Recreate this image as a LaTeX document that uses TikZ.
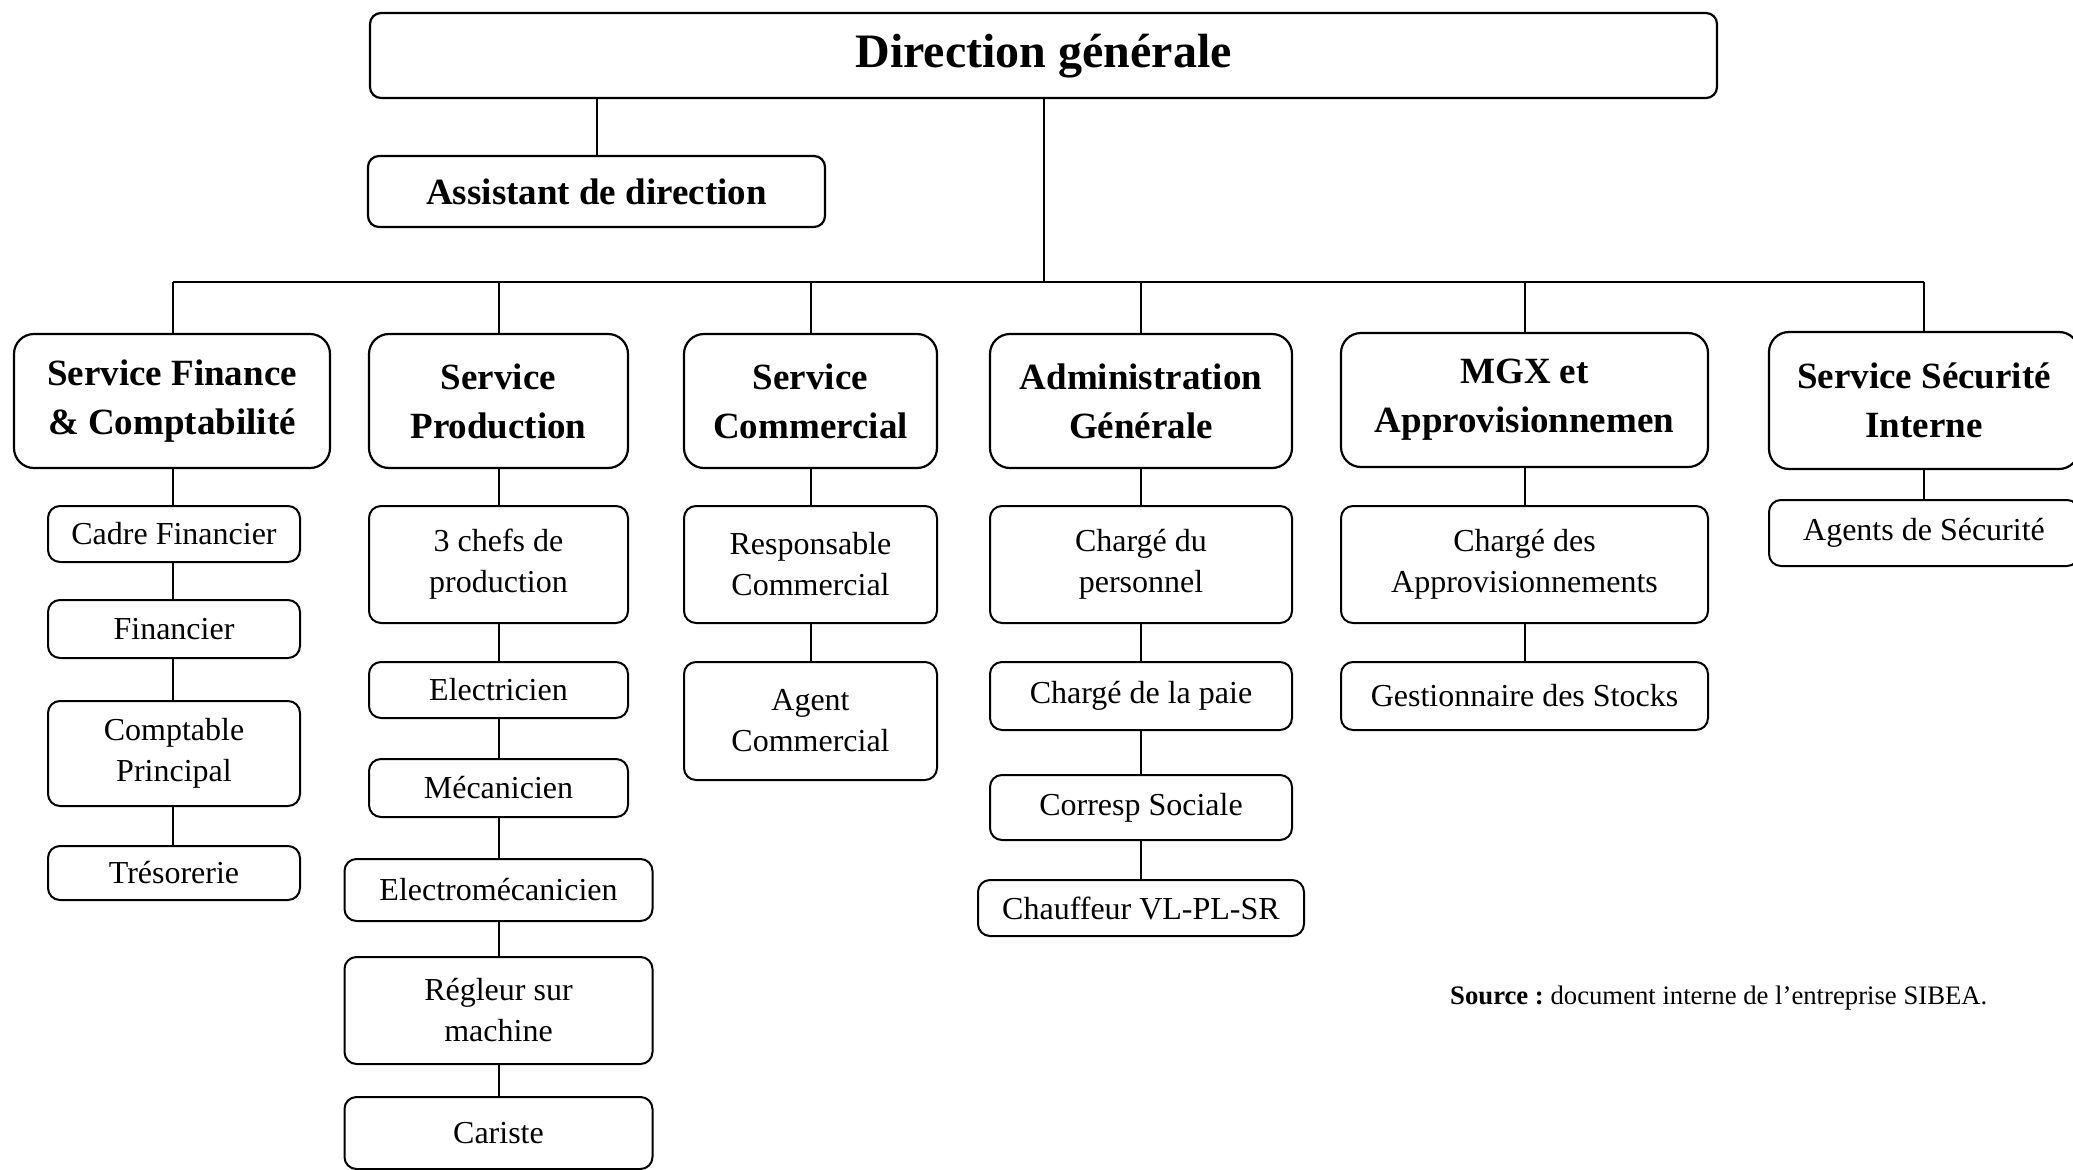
\documentclass[tikz,border=0pt]{standalone}
\usepackage{fontspec}
\setmainfont{Liberation Serif}
\tikzset{
  dgbox/.style={draw, line width=2.2pt, rounded corners=11pt, align=center, inner sep=0pt,
    font=\fontsize{48}{56}\selectfont\bfseries, text height=44pt, text depth=21pt},
  headbox/.style={draw, line width=2.2pt, rounded corners=20pt, align=center, inner sep=0pt,
    font=\fontsize{37}{49}\selectfont\bfseries},
  subbox/.style={draw, line width=2pt, rounded corners=12pt, align=center, inner sep=0pt,
    font=\fontsize{32}{41}\selectfont},
  link/.style={line width=2pt}
}
\begin{document}
\begin{tikzpicture}[x=1pt,y=-1pt]
\clip (0,0) rectangle (2073,1170);
\fill[white] (0,0) rectangle (2073,1170);

% top
\node[dgbox, minimum width=1347pt, minimum height=85pt] (dg) at (1043.5,55.5) {Direction générale};
\node[headbox, rounded corners=11pt, minimum width=457pt, minimum height=71pt] (asst) at (596.5,191.5) {Assistant de direction};

% level 1
\node[headbox, minimum width=316pt, minimum height=134pt] (sfc) at (172,401) {Service Finance\\\& Comptabilité};
\node[headbox, minimum width=259pt, minimum height=134pt] (prod) at (498.5,401) {Service\\Production};
\node[headbox, minimum width=253pt, minimum height=134pt] (com) at (810.5,401) {Service\\Commercial};
\node[headbox, minimum width=302pt, minimum height=134pt] (adm) at (1141,401) {Administration\\Générale};
\node[headbox, minimum width=367pt, minimum height=134pt] (mgx) at (1524.5,400) {MGX et\\Approvisionnemen};
\node[headbox, minimum width=310pt, minimum height=137pt] (sec) at (1924,400.5) {Service Sécurité\\Interne};

% column 1
\node[subbox, minimum width=252pt, minimum height=56pt] (cadre) at (174,534) {Cadre Financier};
\node[subbox, minimum width=252pt, minimum height=58pt] (fin) at (174,629) {Financier};
\node[subbox, minimum width=252pt, minimum height=105pt] (compt) at (174,753.5) {Comptable\\Principal};
\node[subbox, minimum width=252pt, minimum height=54pt] (tres) at (174,873) {Trésorerie};

% column 2
\node[subbox, minimum width=259pt, minimum height=117pt] (chefs) at (498.5,564.5) {3 chefs de\\production};
\node[subbox, minimum width=259pt, minimum height=56pt] (elec) at (498.5,690) {Electricien};
\node[subbox, minimum width=259pt, minimum height=58pt] (meca) at (498.5,788) {Mécanicien};
\node[subbox, minimum width=308pt, minimum height=62pt] (emeca) at (498.5,890) {Electromécanicien};
\node[subbox, minimum width=308pt, minimum height=107pt] (regl) at (498.5,1010.5) {Régleur sur\\machine};
\node[subbox, minimum width=308pt, minimum height=72pt] (car) at (498.5,1133) {Cariste};

% column 3
\node[subbox, minimum width=253pt, minimum height=117pt] (resp) at (810.5,564.5) {Responsable\\Commercial};
\node[subbox, minimum width=253pt, minimum height=118pt] (agent) at (810.5,721) {Agent\\Commercial};

% column 4
\node[subbox, minimum width=302pt, minimum height=117pt] (chpers) at (1141,564.5) {Chargé du\\personnel};
\node[subbox, minimum width=302pt, minimum height=68pt] (paie) at (1141,696) {Chargé de la paie};
\node[subbox, minimum width=302pt, minimum height=65pt] (corr) at (1141,807.5) {Corresp Sociale};
\node[subbox, minimum width=326pt, minimum height=56pt] (chauf) at (1141,908) {Chauffeur VL-PL-SR};

% column 5
\node[subbox, minimum width=367pt, minimum height=117pt] (chappro) at (1524.5,564.5) {Chargé des\\Approvisionnements};
\node[subbox, minimum width=367pt, minimum height=68pt] (gest) at (1524.5,696) {Gestionnaire des Stocks};

% column 6
\node[subbox, minimum width=310pt, minimum height=66pt] (agsec) at (1924,533) {Agents de Sécurité};

% source
\node[anchor=west, inner sep=0pt, font=\fontsize{26.7}{32}\selectfont] (src) at (1450,998)
  {\textbf{Source :}~document interne de l’entreprise SIBEA.};

% connectors
\coordinate (barL) at (173,282);
\coordinate (barR) at (1924,282);
\draw[link] (asst.north) -- (asst.north |- dg.south);
\draw[link] (dg.south) -- (dg.south |- barL);
\draw[link] (barL) -- (barR);
\foreach \n in {prod,com,adm,mgx,sec}
  \draw[link] (\n.north) -- (\n.north |- barL);
\draw[link] (barL) -- (barL |- sfc.north);

\draw[link] (barL |- sfc.south) -- (barL |- cadre.north);
\draw[link] (barL |- cadre.south) -- (barL |- fin.north);
\draw[link] (barL |- fin.south) -- (barL |- compt.north);
\draw[link] (barL |- compt.south) -- (barL |- tres.north);
\draw[link] (prod) -- (chefs) -- (elec) -- (meca) -- (emeca) -- (regl) -- (car);
\draw[link] (com) -- (resp) -- (agent);
\draw[link] (adm) -- (chpers) -- (paie) -- (corr) -- (chauf);
\draw[link] (mgx) -- (chappro) -- (gest);
\draw[link] (sec) -- (agsec);
\end{tikzpicture}
\end{document}
